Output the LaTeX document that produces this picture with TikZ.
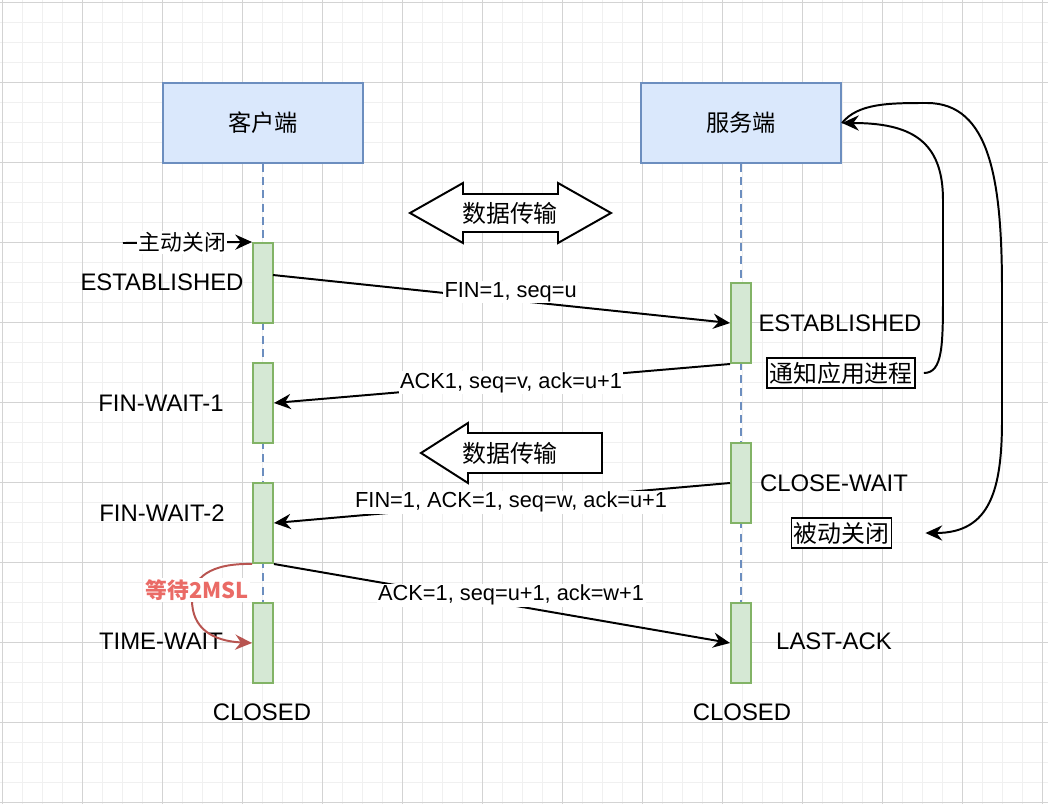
\documentclass[tikz,border=0pt]{standalone}
\usepackage{fontspec}
\setmainfont{Liberation Sans}
\newfontfamily\cjk{Noto Sans CJK SC}
\usetikzlibrary{arrows.meta}
\definecolor{gridminor}{HTML}{F0F0F0}
\definecolor{gridmajor}{HTML}{D3D3D3}
\definecolor{partyfill}{HTML}{DAE8FC}
\definecolor{partyline}{HTML}{6C8EBF}
\definecolor{actfill}{HTML}{D5E8D4}
\definecolor{actline}{HTML}{82B366}
\definecolor{waittext}{HTML}{EA6B66}
\definecolor{waitline}{HTML}{B85450}
\begin{document}
\begin{tikzpicture}[x=0.025cm,y=-0.025cm]
	\tikzset{
		party/.style={draw=partyline,fill=partyfill,line width=1.4pt,minimum width=5cm,minimum height=2cm,font=\cjk\fontsize{16.5}{19}\selectfont},
		act/.style={draw=actline,fill=actfill,line width=1.4pt,minimum width=0.5cm,minimum height=2cm,inner sep=0pt},
		life/.style={draw=partyline,line width=1.4pt,dash pattern=on 2mm off 1.3mm},
		msg/.style={line width=1.4pt,-{Stealth[length=4.2mm,width=3.8mm,inset=1.4mm]}},
		lbl/.style={fill=white,inner sep=1pt,font=\fontsize{15.5}{18}\selectfont},
		state/.style={font=\fontsize{17}{20}\selectfont},
		tag/.style={draw,line width=1.2pt,fill=white,inner xsep=1.5pt,inner ysep=0pt,minimum height=0.75cm,font=\cjk\fontsize{17}{20}\selectfont},
		bigarrow/.style={line width=1.4pt,fill=white}
	}
	\useasboundingbox (0,0) rectangle (1048,804);
	% grid
	\foreach \k in {0,...,52}
		\draw[gridminor,line width=0.7pt] ({2+20*\k},0) -- ({2+20*\k},804);
	\foreach \k in {0,...,40}
		\draw[gridminor,line width=0.7pt] (0,{2+20*\k}) -- (1048,{2+20*\k});
	\foreach \k in {0,...,13}
		\draw[gridmajor,line width=0.7pt] ({2+80*\k},0) -- ({2+80*\k},804);
	\foreach \k in {0,...,10}
		\draw[gridmajor,line width=0.7pt] (0,{2+80*\k}) -- (1048,{2+80*\k});
	% parties and lifelines
	\node[party] (cli) at (263,123) {客户端};
	\node[party] (srv) at (741,123) {服务端};
	\coordinate (cliend) at (263,683);
	\coordinate (srvend) at (741,683);
	\draw[life] (cli.south) -- (cliend);
	\draw[life] (srv.south) -- (srvend);
	\foreach \n/\y in {c1/283, c2/403, c3/523, c4/643}
		\node[act] (\n) at (263,\y) {};
	\foreach \n/\y in {s1/323, s2/483, s3/643}
		\node[act] (\n) at (741,\y) {};
	% states
	\node[state] (est1) at (162,282) {ESTABLISHED};
	\node[state] (fw1) at (161,403) {FIN-WAIT-1};
	\node[state] (fw2) at (162,513) {FIN-WAIT-2};
	\node[state] (tw) at (161,641) {TIME-WAIT};
	\node[state] (cl1) at (262,712) {CLOSED};
	\node[state] (est2) at (840,323) {ESTABLISHED};
	\node[state] (cw) at (834,483) {CLOSE-WAIT};
	\node[state] (la) at (834,641) {LAST-ACK};
	\node[state] (cl2) at (742,712) {CLOSED};
	\node[tag,outer xsep=0.225cm] (notify) at (841,373) {通知应用进程};
	\node[tag,outer xsep=0.85cm] (passive) at (841.5,533) {被动关闭};
	% data transfer
	\draw[bigarrow] (410,213) -- (463,183) -- (463,194) -- (558,194) -- (558,183) -- (611,213)
		-- (558,243) -- (558,232) -- (463,232) -- (463,243) -- cycle;
	\node[font=\cjk\fontsize{17}{20}\selectfont] (data1) at (510,213) {数据传输};
	\draw[bigarrow] (421,453) -- (468,423) -- (468,433) -- (602,433) -- (602,473) -- (468,473) -- (468,483) -- cycle;
	\node[font=\cjk\fontsize{17}{20}\selectfont] (data2) at (510,453) {数据传输};
	% messages
	\coordinate (act0) at (123,243);
	\draw[msg] (act0) -- (c1.north west) node[lbl,pos=0.46,font=\cjk\fontsize{15.5}{18}\selectfont] {主动关闭};
	\coordinate (fin0) at (273,275);
	\draw[msg] (fin0) -- (s1.west) node[lbl,pos=0.52,yshift=0.2cm] {FIN=1, seq=u};
	\draw[msg] (s1.south west) -- (c2.east) node[lbl,pos=0.48] {ACK1, seq=v, ack=u+1};
	\draw[msg] (s2.west) -- (c3.east) node[lbl,pos=0.48] {FIN=1, ACK=1, seq=w, ack=u+1};
	\draw[msg] (c3.south east) -- (s3.west) node[lbl,pos=0.52,yshift=0.25cm] {ACK=1, seq=u+1, ack=w+1};
	% 2MSL wait
	\draw[msg,draw=waitline] (c3.south west) .. controls (210,563) and (192,578) .. (192,600)
		.. controls (192,628) and (212,641) .. (c4.west);
	\node[fill=white,inner sep=1pt,text=waittext,font=\cjk\bfseries\fontsize{15.5}{18}\selectfont] (wait) at (197,590) {等待2MSL};
	% server side curves
	\draw[msg] (notify.east) .. controls (943,373) and (943,345) .. (943,290) -- (943,200)
		.. controls (943,140) and (910,123) .. (srv.east);
	\draw[msg] (srv.east) .. controls (858,103) and (890,103) .. (927,103)
		.. controls (990,103) and (1002,180) .. (1002,290) -- (1002,420)
		.. controls (1002,490) and (990,533) .. (passive.east);
\end{tikzpicture}
\end{document}
